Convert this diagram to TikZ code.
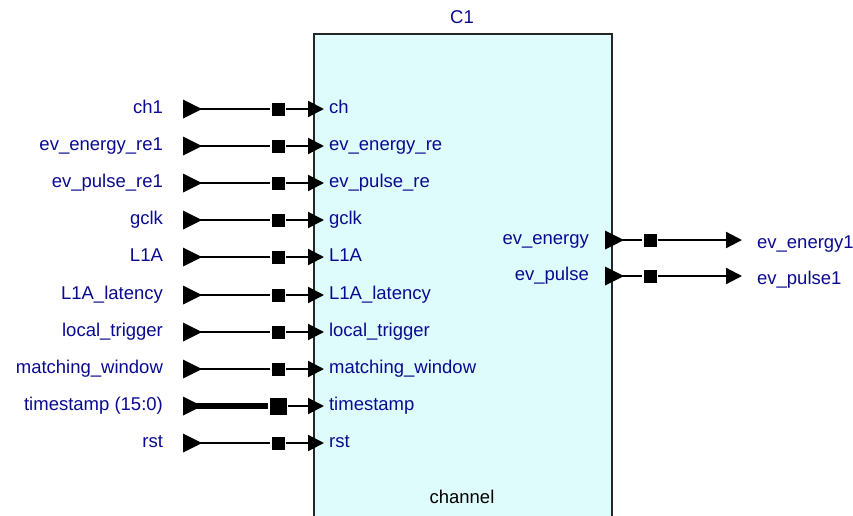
\documentclass[tikz,border=0pt]{standalone}
\usepackage{fontspec}
\setmainfont{Liberation Sans}
\usetikzlibrary{arrows.meta,shapes.geometric}
\definecolor{sigblue}{RGB}{10,10,145}
\definecolor{chanfill}{RGB}{223,252,253}

\begin{document}
\begin{tikzpicture}[x=1pt, y=-1pt, line width=2.2pt,
    sig/.style = {text=sigblue, inner sep=0pt, font=\fontsize{18.5}{20}\selectfont},
    intri/.style = {isosceles triangle, isosceles triangle stretches, fill=black, inner sep=0pt, outer sep=0pt, minimum width=19pt, minimum height=19pt, anchor=lower side},
    junc/.style = {rectangle, fill=black, inner sep=0pt, minimum size=13pt},
    tip/.style = {-{Triangle[length=16pt, width=16pt]}},
    block/.style = {draw=black!85, fill=chanfill, line width=2pt, anchor=north west, minimum width=298pt, minimum height=500pt}]
			\useasboundingbox (0,0) rectangle (853,515);
			\node[block] (c1) at (313,33) {};
			\node[sig, anchor=base] (c1name) at (462,23) {C1};
			\node[sig, text=black, anchor=base] (c1type) at (462,503) {channel};
			% inputs (bus: wider line, bigger junction)
			\foreach \i/\y/\l/\p/\w/\s in {1/109/ch1/ch/2.2/13, 2/146/ev\_energy\_re1/ev\_energy\_re/2.2/13, 3/183/ev\_pulse\_re1/ev\_pulse\_re/2.2/13,
					4/220/gclk/gclk/2.2/13, 5/257/L1A/L1A/2.2/13, 6/295/L1A\_latency/L1A\_latency/2.2/13, 7/332/local\_trigger/local\_trigger/2.2/13,
					8/369/matching\_window/matching\_window/2.2/13, 9/406/timestamp (15:0)/timestamp/5.5/17, 10/443/rst/rst/2.2/13}
			{
				\node[sig, anchor=base east] (n\i) at (164,\y+4) {\l};
				\node[intri] (s\i) at (183,\y) {};
				\node[junc, minimum size=\s pt] (j\i) at (278,\y) {};
				\coordinate (p\i) at (324,\y);
				\node[sig, anchor=base west] (q\i) at (328,\y+4) {\p};
				\draw[line width=\w pt] (s\i.center) -- (j\i);
				\draw (j\i) edge[tip] (p\i);
			}
			% outputs
			\foreach \i/\y/\p/\l in {11/240/ev\_energy/ev\_energy1, 12/276/ev\_pulse/ev\_pulse1}
			{
				\node[sig, anchor=base east] (q\i) at (590,\y+4) {\p};
				\node[intri] (s\i) at (605,\y) {};
				\node[junc] (j\i) at (650,\y) {};
				\coordinate (p\i) at (742,\y);
				\node[sig, anchor=base west] (n\i) at (756,\y+8) {\l};
				\draw (s\i.center) -- (j\i) (j\i) edge[tip] (p\i);
			}
		\end{tikzpicture}
\end{document}
